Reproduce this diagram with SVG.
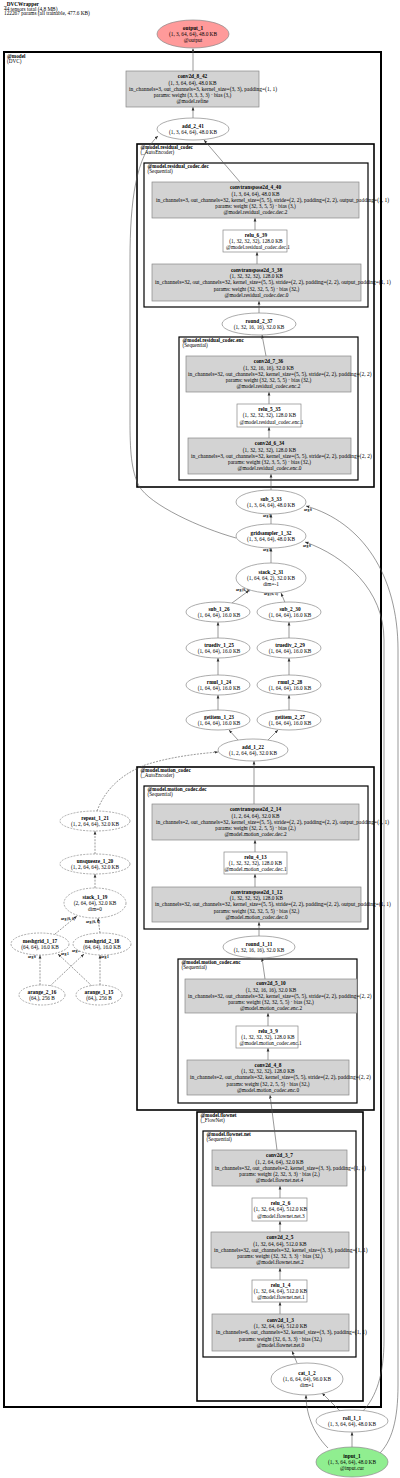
<svg xmlns="http://www.w3.org/2000/svg" width="400" height="1478" viewBox="0 0 400 1478">
<defs>
<style>
.t{font-family:"Liberation Serif",serif;font-size:5.3px;text-anchor:middle;fill:#000}
.ic{font-family:"Liberation Serif",serif;font-size:5.5px;text-anchor:start;fill:#000}
.s{text-anchor:start}
.b{font-weight:bold}
.h{font-family:"Liberation Serif",serif;font-size:5.3px;fill:#000}
.cl{fill:none;stroke:#000}
.cll{font-family:"Liberation Serif",serif;font-size:5.2px;fill:#000}
.box{fill:#d3d3d3;stroke:#888;stroke-width:0.7}
.wbox{fill:#fff;stroke:#888;stroke-width:0.7}
.ell{fill:#fff;stroke:#888;stroke-width:0.7}
.dash{stroke-dasharray:2 1.2}
.e{fill:none;stroke:#555;stroke-width:0.6;marker-end:url(#ah)}
.al{font-family:"Liberation Serif",serif;font-size:3.6px;font-weight:bold;fill:#000}
</style>
<marker id="ah" viewBox="0 0 10 10" refX="10" refY="5" markerWidth="3.5" markerHeight="3.5" markerUnits="userSpaceOnUse" orient="auto"><path d="M0,1 L10,5 L0,9z" fill="#333"/></marker>
</defs>
<rect width="400" height="1478" fill="#fff"/>
<g id="header">
<text class="h b" x="4" y="5.8">_DVCWrapper</text>
<text class="h" x="4" y="10.5">44 tensors total (4.8 MB)</text>
<text class="h" x="4" y="15.1">122267 params (all trainable, 477.6 KB)</text>
</g>
<g id="clusters">
<rect class="cl" x="4" y="52" width="377" height="1355" stroke-width="2"/>
<text class="cll b" x="7" y="57.8">@model</text><text class="cll" x="7" y="62.6">(DVC)</text>
<rect class="cl" x="137" y="144" width="237" height="343" stroke-width="1.6"/>
<text class="cll b" x="140.5" y="149.2">@model.residual_codec</text><text class="cll" x="140.5" y="154">(_AutoEncoder)</text>
<rect class="cl" x="144" y="163" width="224" height="144" stroke-width="1.2"/>
<text class="cll b" x="147.5" y="168.2">@model.residual_codec.dec</text><text class="cll" x="147.5" y="173">(Sequential)</text>
<rect class="cl" x="179" y="337" width="179" height="143" stroke-width="1.2"/>
<text class="cll b" x="182.5" y="342.2">@model.residual_codec.enc</text><text class="cll" x="182.5" y="347">(Sequential)</text>
<rect class="cl" x="137" y="767" width="237" height="343" stroke-width="1.6"/>
<text class="cll b" x="140.5" y="772.2">@model.motion_codec</text><text class="cll" x="140.5" y="777">(_AutoEncoder)</text>
<rect class="cl" x="144" y="786" width="224" height="143" stroke-width="1.2"/>
<text class="cll b" x="147.5" y="791.2">@model.motion_codec.dec</text><text class="cll" x="147.5" y="796">(Sequential)</text>
<rect class="cl" x="178" y="959" width="179" height="144" stroke-width="1.2"/>
<text class="cll b" x="181.5" y="964.2">@model.motion_codec.enc</text><text class="cll" x="181.5" y="969">(Sequential)</text>
<rect class="cl" x="197" y="1112" width="166" height="289" stroke-width="1.6"/>
<text class="cll b" x="200.5" y="1117.2">@model.flownet</text><text class="cll" x="200.5" y="1122">(_FlowNet)</text>
<rect class="cl" x="203" y="1131" width="153" height="226" stroke-width="1.2"/>
<text class="cll b" x="206.5" y="1136.2">@model.flownet.net</text><text class="cll" x="206.5" y="1141">(Sequential)</text>
</g>
<g id="edges">
<path class="e" d="M193,71 L193,48.5"/>
<path class="e" d="M193,118 L193,107"/>
<path class="e" d="M240,182 L204,140"/>
<path class="e" d="M255,230 L255,218"/>
<path class="e" d="M257,264 L257,252"/>
<path class="e" d="M259,313 L259,301"/>
<path class="e" d="M266,356 L262,335"/>
<path class="e" d="M269,404 L269,392"/>
<path class="e" d="M269,438 L269,427"/>
<path class="e" d="M271,490 L271,474"/>
<path class="e" d="M271,524 L271,514"/>
<text class="al" x="263" y="517">arg 1</text>
<path class="e" d="M271,563 L271,548"/>
<text class="al" x="263" y="551">arg 1</text>
<path class="e" d="M232,603 L249,590.5"/>
<text class="al" x="236" y="591">arg (0, 0)</text>
<path class="e" d="M285,602.5 L281,593"/>
<text class="al" x="264" y="595">arg (0, 1)</text>
<path class="e" d="M218,638 L218,622"/>
<path class="e" d="M289,638 L289,622"/>
<path class="e" d="M218,675 L218,658"/>
<path class="e" d="M289,675 L289,658"/>
<path class="e" d="M218,710 L218,695"/>
<path class="e" d="M289,710 L289,695"/>
<path class="e" d="M238,740 L229,730"/>
<path class="e" d="M268,740 L278,730"/>
<path class="e" d="M254,804 L254,761"/>
<path class="e" d="M255,852 L255,840"/>
<path class="e" d="M255,887 L255,874"/>
<path class="e" d="M259,936 L259,922"/>
<path class="e" d="M265,979 L262,958"/>
<path class="e" d="M268,1026 L268,1013"/>
<path class="e" d="M268,1060 L268,1048"/>
<path class="e" d="M277,1150 L270,1095"/>
<path class="e" d="M280,1198 L280,1186"/>
<path class="e" d="M280,1232 L280,1221"/>
<path class="e" d="M280,1280 L280,1268"/>
<path class="e" d="M280,1314 L280,1302"/>
<path class="e" d="M297,1363 L292,1351"/>
<path class="e" d="M328,1448 C312,1432 306,1412 306,1395"/>
<path class="e" d="M340,1411 L322,1393"/>
<path class="e" d="M352,1447 L352,1432"/>
<path class="e" d="M363,1411 C376,1397 384,1375 384,1340 L384,640 C384,590 345,556 305,542"/>
<text class="al" x="303" y="547">arg 0</text>
<path class="e" d="M378,1455 C392,1442 398,1420 398,1385 L398,650 C398,575 362,522 306,506"/>
<text class="al" x="304" y="511">arg 0</text>
<path class="e" d="M236,538 C200,528 150,505 139,486 C131,470 130,450 130,420 L130,260 C130,200 136,156 158,136"/>
<path class="e dash" d="M97,811 C105,790 120,775 145,765 C170,757 195,754 218,752"/>
<path class="e dash" d="M95,854 L95,831"/>
<path class="e dash" d="M95,888 L95,874"/>
<path class="e dash" d="M55,934 L77,916"/>
<text class="al" x="61" y="920">arg (0, 0)</text>
<path class="e dash" d="M100,933 L98,918"/>
<text class="al" x="86" y="923">arg (0, 1)</text>
<path class="e dash" d="M40,985 L40,955"/>
<text class="al" x="28" y="958">arg 0</text>
<path class="e dash" d="M92,986 L58,954"/>
<text class="al" x="61" y="955">arg 1</text>
<path class="e dash" d="M50,986 L84,954"/>
<text class="al" x="72" y="952">arg 0</text>
<path class="e dash" d="M100,985 L100,955"/>
<text class="al" x="101" y="958">arg 1</text>
</g>
<g id="output_1">
<ellipse cx="193" cy="34" rx="36" ry="14" fill="#ff9a9a" stroke="#888" stroke-width="0.7"/>
<text class="t b" x="193" y="29.5">output_1</text><text class="t" x="193" y="35.8">(1, 3, 64, 64), 48.0 KB</text><text class="t" x="193" y="42.1">@output</text>
</g>
<g id="conv2d_8_42">
<rect class="box" x="126" y="71" width="133" height="36"/>
<text class="t b" x="192.5" y="78.2">conv2d_8_42</text><text class="t" x="192.5" y="84.5">(1, 3, 64, 64), 48.0 KB</text><text class="ic" x="129" y="90.8">in_channels=3, out_channels=3, kernel_size=(3, 3), padding=(1, 1)</text><text class="t" x="192.5" y="97.1">params: weight (3, 3, 3, 3) · bias (3,)</text><text class="t" x="192.5" y="103.4">@model.refine</text>
</g>
<g id="add_2_41">
<ellipse class="ell" cx="193" cy="129" rx="36" ry="11"/>
<text class="t b" x="193" y="127.65">add_2_41</text><text class="t" x="193" y="133.95">(1, 3, 64, 64), 48.0 KB</text>
</g>
<g id="convtranspose2d_4_40">
<rect class="box" x="152" y="182" width="207" height="36"/>
<text class="t b" x="255.5" y="189.2">convtranspose2d_4_40</text><text class="t" x="255.5" y="195.5">(1, 3, 64, 64), 48.0 KB</text><text class="ic" x="156" y="201.8">in_channels=3, out_channels=32, kernel_size=(5, 5), stride=(2, 2), padding=(2, 2), output_padding=(1, 1)</text><text class="t" x="255.5" y="208.1">params: weight (32, 3, 5, 5) · bias (3,)</text><text class="t" x="255.5" y="214.4">@model.residual_codec.dec.2</text>
</g>
<g id="relu_6_39">
<rect class="wbox" x="223" y="230" width="64" height="22"/>
<text class="t b" x="256" y="236.5">relu_6_39</text><text class="t" x="256" y="242.8">(1, 32, 32, 32), 128.0 KB</text><text class="t s" x="226" y="249.1">@model.residual_codec.dec.1</text>
</g>
<g id="convtranspose2d_3_38">
<rect class="box" x="152" y="264" width="209" height="37"/>
<text class="t b" x="256.5" y="271.7">convtranspose2d_3_38</text><text class="t" x="256.5" y="278">(1, 32, 32, 32), 128.0 KB</text><text class="ic" x="155" y="284.3">in_channels=32, out_channels=32, kernel_size=(5, 5), stride=(2, 2), padding=(2, 2), output_padding=(1, 1)</text><text class="t" x="256.5" y="290.6">params: weight (32, 32, 5, 5) · bias (32,)</text><text class="t" x="256.5" y="296.9">@model.residual_codec.dec.0</text>
</g>
<g id="round_2_37">
<ellipse class="ell" cx="259" cy="324" rx="37" ry="11"/>
<text class="t b" x="259" y="322.65">round_2_37</text><text class="t" x="259" y="328.95">(1, 32, 16, 16), 32.0 KB</text>
</g>
<g id="conv2d_7_36">
<rect class="box" x="186" y="356" width="165" height="36"/>
<text class="t b" x="268.5" y="363.2">conv2d_7_36</text><text class="t" x="268.5" y="369.5">(1, 32, 16, 16), 32.0 KB</text><text class="ic" x="188" y="375.8">in_channels=32, out_channels=32, kernel_size=(5, 5), stride=(2, 2), padding=(2, 2)</text><text class="t" x="268.5" y="382.1">params: weight (32, 32, 5, 5) · bias (32,)</text><text class="t" x="268.5" y="388.4">@model.residual_codec.enc.2</text>
</g>
<g id="relu_5_35">
<rect class="wbox" x="237" y="404" width="64" height="23"/>
<text class="t b" x="269.5" y="411">relu_5_35</text><text class="t" x="269.5" y="417.3">(1, 32, 32, 32), 128.0 KB</text><text class="t s" x="239.5" y="423.6">@model.residual_codec.enc.1</text>
</g>
<g id="conv2d_6_34">
<rect class="box" x="188" y="438" width="163" height="36"/>
<text class="t b" x="269.5" y="445.2">conv2d_6_34</text><text class="t" x="269.5" y="451.5">(1, 32, 32, 32), 128.0 KB</text><text class="ic" x="191" y="457.8">in_channels=3, out_channels=32, kernel_size=(5, 5), stride=(2, 2), padding=(2, 2)</text><text class="t" x="269.5" y="464.1">params: weight (32, 3, 5, 5) · bias (32,)</text><text class="t" x="269.5" y="470.4">@model.residual_codec.enc.0</text>
</g>
<g id="sub_3_33">
<ellipse class="ell" cx="271" cy="502" rx="35" ry="12"/>
<text class="t b" x="271" y="500.65">sub_3_33</text><text class="t" x="271" y="506.95">(1, 3, 64, 64), 48.0 KB</text>
</g>
<g id="gridsampler_1_32">
<ellipse class="ell" cx="271" cy="536" rx="35" ry="12"/>
<text class="t b" x="271" y="534.65">gridsampler_1_32</text><text class="t" x="271" y="540.95">(1, 3, 64, 64), 48.0 KB</text>
</g>
<g id="stack_2_31">
<ellipse class="ell" cx="271" cy="578" rx="35" ry="15"/>
<text class="t b" x="271" y="573.5">stack_2_31</text><text class="t" x="271" y="579.8">(1, 64, 64, 2), 32.0 KB</text><text class="t" x="271" y="586.1">dim=-1</text>
</g>
<g id="sub_1_26">
<ellipse class="ell" cx="218" cy="612" rx="32" ry="10"/>
<text class="t b" x="219" y="610.65">sub_1_26</text><text class="t" x="219" y="616.95">(1, 64, 64), 16.0 KB</text>
</g>
<g id="sub_2_30">
<ellipse class="ell" cx="289" cy="612" rx="32" ry="10"/>
<text class="t b" x="290" y="610.65">sub_2_30</text><text class="t" x="290" y="616.95">(1, 64, 64), 16.0 KB</text>
</g>
<g id="truediv_1_25">
<ellipse class="ell" cx="218" cy="648" rx="32" ry="10"/>
<text class="t b" x="219" y="646.65">truediv_1_25</text><text class="t" x="219" y="652.95">(1, 64, 64), 16.0 KB</text>
</g>
<g id="truediv_2_29">
<ellipse class="ell" cx="289" cy="648" rx="32" ry="10"/>
<text class="t b" x="290" y="646.65">truediv_2_29</text><text class="t" x="290" y="652.95">(1, 64, 64), 16.0 KB</text>
</g>
<g id="rmul_1_24">
<ellipse class="ell" cx="218" cy="685" rx="32" ry="10"/>
<text class="t b" x="219" y="683.65">rmul_1_24</text><text class="t" x="219" y="689.95">(1, 64, 64), 16.0 KB</text>
</g>
<g id="rmul_2_28">
<ellipse class="ell" cx="289" cy="685" rx="32" ry="10"/>
<text class="t b" x="290" y="683.65">rmul_2_28</text><text class="t" x="290" y="689.95">(1, 64, 64), 16.0 KB</text>
</g>
<g id="getitem_1_23">
<ellipse class="ell" cx="218" cy="720" rx="32" ry="10"/>
<text class="t b" x="219" y="718.65">getitem_1_23</text><text class="t" x="219" y="724.95">(1, 64, 64), 16.0 KB</text>
</g>
<g id="getitem_2_27">
<ellipse class="ell" cx="289" cy="720" rx="32" ry="10"/>
<text class="t b" x="290" y="718.65">getitem_2_27</text><text class="t" x="290" y="724.95">(1, 64, 64), 16.0 KB</text>
</g>
<g id="add_1_22">
<ellipse class="ell" cx="253" cy="750" rx="35" ry="11"/>
<text class="t b" x="253" y="748.65">add_1_22</text><text class="t" x="253" y="754.95">(1, 2, 64, 64), 32.0 KB</text>
</g>
<g id="repeat_1_21">
<ellipse class="ell dash" cx="95" cy="821" rx="35" ry="10"/>
<text class="t b" x="95" y="819.65">repeat_1_21</text><text class="t" x="95" y="825.95">(1, 2, 64, 64), 32.0 KB</text>
</g>
<g id="unsqueeze_1_20">
<ellipse class="ell dash" cx="95" cy="864" rx="35" ry="10"/>
<text class="t b" x="95" y="862.65">unsqueeze_1_20</text><text class="t" x="95" y="868.95">(1, 2, 64, 64), 32.0 KB</text>
</g>
<g id="stack_1_19">
<ellipse class="ell dash" cx="95" cy="903" rx="31" ry="15"/>
<text class="t b" x="95" y="898.5">stack_1_19</text><text class="t" x="95" y="904.8">(2, 64, 64), 32.0 KB</text><text class="t" x="95" y="911.1">dim=0</text>
</g>
<g id="meshgrid_1_17">
<ellipse class="ell dash" cx="40" cy="944" rx="29" ry="11"/>
<text class="t b" x="40" y="942.65">meshgrid_1_17</text><text class="t" x="40" y="948.95">(64, 64), 16.0 KB</text>
</g>
<g id="meshgrid_2_18">
<ellipse class="ell dash" cx="102" cy="944" rx="29" ry="11"/>
<text class="t b" x="102" y="942.65">meshgrid_2_18</text><text class="t" x="102" y="948.95">(64, 64), 16.0 KB</text>
</g>
<g id="arange_2_16">
<ellipse class="ell dash" cx="42" cy="995" rx="23" ry="10"/>
<text class="t b" x="42" y="993.65">arange_2_16</text><text class="t" x="42" y="999.95">(64,), 256 B</text>
</g>
<g id="arange_1_15">
<ellipse class="ell dash" cx="99" cy="995" rx="23" ry="10"/>
<text class="t b" x="99" y="993.65">arange_1_15</text><text class="t" x="99" y="999.95">(64,), 256 B</text>
</g>
<g id="convtranspose2d_2_14">
<rect class="box" x="152" y="804" width="207" height="36"/>
<text class="t b" x="255.5" y="811.2">convtranspose2d_2_14</text><text class="t" x="255.5" y="817.5">(1, 2, 64, 64), 32.0 KB</text><text class="ic" x="156" y="823.8">in_channels=2, out_channels=32, kernel_size=(5, 5), stride=(2, 2), padding=(2, 2), output_padding=(1, 1)</text><text class="t" x="255.5" y="830.1">params: weight (32, 2, 5, 5) · bias (2,)</text><text class="t" x="255.5" y="836.4">@model.motion_codec.dec.2</text>
</g>
<g id="relu_4_13">
<rect class="wbox" x="224" y="852" width="63" height="22"/>
<text class="t b" x="255.5" y="858.5">relu_4_13</text><text class="t" x="255.5" y="864.8">(1, 32, 32, 32), 128.0 KB</text><text class="t" x="255.5" y="871.1">@model.motion_codec.dec.1</text>
</g>
<g id="convtranspose2d_1_12">
<rect class="box" x="152" y="887" width="209" height="35"/>
<text class="t b" x="256.5" y="893.7">convtranspose2d_1_12</text><text class="t" x="256.5" y="900">(1, 32, 32, 32), 128.0 KB</text><text class="ic" x="155" y="906.3">in_channels=32, out_channels=32, kernel_size=(5, 5), stride=(2, 2), padding=(2, 2), output_padding=(1, 1)</text><text class="t" x="256.5" y="912.6">params: weight (32, 32, 5, 5) · bias (32,)</text><text class="t" x="256.5" y="918.9">@model.motion_codec.dec.0</text>
</g>
<g id="round_1_11">
<ellipse class="ell" cx="259" cy="947" rx="36" ry="11"/>
<text class="t b" x="259" y="945.65">round_1_11</text><text class="t" x="259" y="951.95">(1, 32, 16, 16), 32.0 KB</text>
</g>
<g id="conv2d_5_10">
<rect class="box" x="185" y="979" width="172" height="34"/>
<text class="t b" x="271" y="985.2">conv2d_5_10</text><text class="t" x="271" y="991.5">(1, 32, 16, 16), 32.0 KB</text><text class="ic" x="188" y="997.8">in_channels=32, out_channels=32, kernel_size=(5, 5), stride=(2, 2), padding=(2, 2)</text><text class="t" x="271" y="1004.1">params: weight (32, 32, 5, 5) · bias (32,)</text><text class="t" x="271" y="1010.4">@model.motion_codec.enc.2</text>
</g>
<g id="relu_3_9">
<rect class="wbox" x="236" y="1026" width="62" height="22"/>
<text class="t b" x="268" y="1032.5">relu_3_9</text><text class="t" x="268" y="1038.8">(1, 32, 32, 32), 128.0 KB</text><text class="t s" x="239.5" y="1045.1">@model.motion_codec.enc.1</text>
</g>
<g id="conv2d_4_8">
<rect class="box" x="187" y="1060" width="162" height="35"/>
<text class="t b" x="268" y="1066.7">conv2d_4_8</text><text class="t" x="268" y="1073">(1, 32, 32, 32), 128.0 KB</text><text class="ic" x="190" y="1079.3">in_channels=2, out_channels=32, kernel_size=(5, 5), stride=(2, 2), padding=(2, 2)</text><text class="t" x="268" y="1085.6">params: weight (32, 2, 5, 5) · bias (32,)</text><text class="t" x="268" y="1091.9">@model.motion_codec.enc.0</text>
</g>
<g id="conv2d_3_7">
<rect class="box" x="212" y="1150" width="135" height="36"/>
<text class="t b" x="279.5" y="1157.2">conv2d_3_7</text><text class="t" x="279.5" y="1163.5">(1, 2, 64, 64), 32.0 KB</text><text class="ic" x="215" y="1169.8">in_channels=32, out_channels=2, kernel_size=(3, 3), padding=(1, 1)</text><text class="t" x="279.5" y="1176.1">params: weight (2, 32, 3, 3) · bias (2,)</text><text class="t" x="279.5" y="1182.4">@model.flownet.net.4</text>
</g>
<g id="relu_2_6">
<rect class="wbox" x="252" y="1198" width="55" height="23"/>
<text class="t b" x="280.5" y="1205">relu_2_6</text><text class="t" x="280.5" y="1211.3">(1, 32, 64, 64), 512.0 KB</text><text class="t" x="281" y="1217.6">@model.flownet.net.3</text>
</g>
<g id="conv2d_2_5">
<rect class="box" x="211" y="1232" width="138" height="36"/>
<text class="t b" x="280" y="1239.2">conv2d_2_5</text><text class="t" x="280" y="1245.5">(1, 32, 64, 64), 512.0 KB</text><text class="ic" x="214" y="1251.8">in_channels=32, out_channels=32, kernel_size=(3, 3), padding=(1, 1)</text><text class="t" x="280" y="1258.1">params: weight (32, 32, 3, 3) · bias (32,)</text><text class="t" x="280" y="1264.4">@model.flownet.net.2</text>
</g>
<g id="relu_1_4">
<rect class="wbox" x="252" y="1280" width="55" height="22"/>
<text class="t b" x="280.5" y="1286.5">relu_1_4</text><text class="t" x="280.5" y="1292.8">(1, 32, 64, 64), 512.0 KB</text><text class="t" x="281" y="1299.1">@model.flownet.net.1</text>
</g>
<g id="conv2d_1_3">
<rect class="box" x="212" y="1314" width="137" height="37"/>
<text class="t b" x="280.5" y="1321.7">conv2d_1_3</text><text class="t" x="280.5" y="1328">(1, 32, 64, 64), 512.0 KB</text><text class="ic" x="216" y="1334.3">in_channels=6, out_channels=32, kernel_size=(3, 3), padding=(1, 1)</text><text class="t" x="280.5" y="1340.6">params: weight (32, 6, 3, 3) · bias (32,)</text><text class="t" x="280.5" y="1346.9">@model.flownet.net.0</text>
</g>
<g id="cat_1_2">
<ellipse class="ell" cx="307" cy="1379" rx="36" ry="16"/>
<text class="t b" x="307" y="1374.5">cat_1_2</text><text class="t" x="307" y="1380.8">(1, 6, 64, 64), 96.0 KB</text><text class="t" x="307" y="1387.1">dim=1</text>
</g>
<g id="roll_1_1">
<ellipse class="ell" cx="352" cy="1421" rx="36" ry="11"/>
<text class="t b" x="352" y="1419.65">roll_1_1</text><text class="t" x="352" y="1425.95">(1, 3, 64, 64), 48.0 KB</text>
</g>
<g id="input_1">
<ellipse cx="352" cy="1462" rx="36" ry="15" fill="#90ee90" stroke="#888" stroke-width="0.7"/>
<text class="t b" x="352" y="1457.5">input_1</text><text class="t" x="352" y="1463.8">(1, 3, 64, 64), 48.0 KB</text><text class="t" x="352" y="1470.1">@input.cur</text>
</g>
</svg>
